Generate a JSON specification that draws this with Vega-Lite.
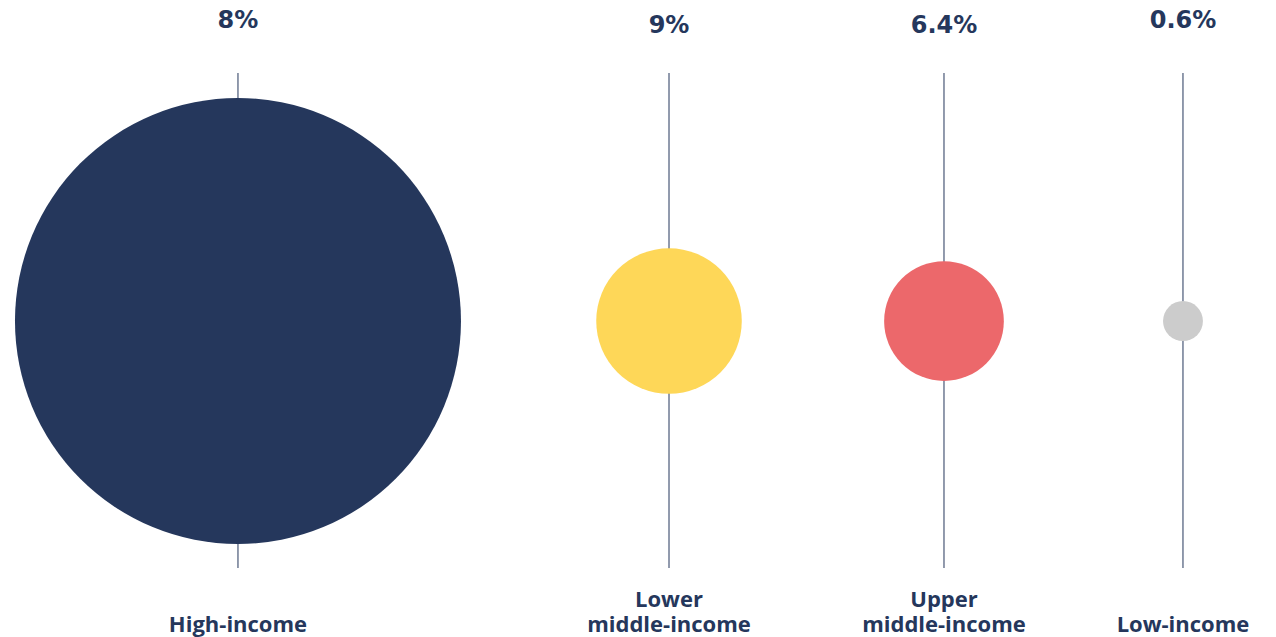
{
  "$schema": "https://vega.github.io/schema/vega-lite/v6.json",
  "width": 1276,
  "height": 637,
  "autosize": {"type": "none"},
  "padding": 0,
  "background": "#ffffff",
  "config": {"view": {"stroke": null}},
  "data": {
    "values": [
      {"group": "High-income", "label": "High-income", "pct": "8%", "pos": 18.65, "weight": 124.9, "stagger": "high"},
      {"group": "Lower middle-income", "label": "Lower\nmiddle-income", "pct": "9%", "pos": 52.43, "weight": 13.3, "stagger": "low"},
      {"group": "Upper middle-income", "label": "Upper\nmiddle-income", "pct": "6.4%", "pos": 73.98, "weight": 9.0, "stagger": "low"},
      {"group": "Low-income", "label": "Low-income", "pct": "0.6%", "pos": 92.71, "weight": 1.0, "stagger": "high"}
    ]
  },
  "encoding": {
    "x": {"field": "pos", "type": "quantitative", "scale": {"domain": [0, 100]}, "axis": null}
  },
  "layer": [
    {
      "mark": {"type": "rule", "color": "#25375c", "strokeWidth": 1},
      "encoding": {
        "y": {"datum": 10.83, "type": "quantitative", "scale": {"domain": [0, 100]}, "axis": null},
        "y2": {"datum": 88.54}
      }
    },
    {
      "mark": {"type": "circle", "opacity": 1, "stroke": null},
      "encoding": {
        "y": {"datum": 49.6, "type": "quantitative", "scale": {"domain": [0, 100]}, "axis": null},
        "size": {"field": "weight", "type": "quantitative", "scale": {"domain": [0, 125], "range": [0, 199075]}, "legend": null},
        "color": {
          "field": "group", "type": "nominal",
          "scale": {"domain": ["High-income", "Lower middle-income", "Upper middle-income", "Low-income"], "range": ["#25375c", "#fed758", "#ec686b", "#cccccc"]},
          "legend": null
        }
      }
    },
    {
      "transform": [{"filter": {"field": "stagger", "equal": "high"}}],
      "mark": {"type": "text", "font": "DejaVu Sans", "fontWeight": "bold", "fontSize": 24, "color": "#25375c", "baseline": "alphabetic", "align": "center"},
      "encoding": {
        "y": {"datum": 95.6, "type": "quantitative", "scale": {"domain": [0, 100]}, "axis": null},
        "text": {"field": "pct"}
      }
    },
    {
      "transform": [{"filter": {"field": "stagger", "equal": "low"}}],
      "mark": {"type": "text", "font": "DejaVu Sans", "fontWeight": "bold", "fontSize": 24, "color": "#25375c", "baseline": "alphabetic", "align": "center"},
      "encoding": {
        "y": {"datum": 94.82, "type": "quantitative", "scale": {"domain": [0, 100]}, "axis": null},
        "text": {"field": "pct"}
      }
    },
    {
      "transform": [{"filter": {"field": "group", "oneOf": ["High-income", "Low-income"]}}],
      "mark": {"type": "text", "font": "Open Sans", "fontWeight": "bold", "fontSize": 22, "color": "#25375c", "baseline": "alphabetic", "align": "center"},
      "encoding": {
        "y": {"datum": 0.83, "type": "quantitative", "scale": {"domain": [0, 100]}, "axis": null},
        "text": {"field": "label"}
      }
    },
    {
      "transform": [{"filter": {"field": "group", "oneOf": ["Lower middle-income", "Upper middle-income"]}}],
      "mark": {"type": "text", "font": "Open Sans", "fontWeight": "bold", "fontSize": 22, "lineHeight": 25, "lineBreak": "\n", "color": "#25375c", "baseline": "alphabetic", "align": "center"},
      "encoding": {
        "y": {"datum": 4.76, "type": "quantitative", "scale": {"domain": [0, 100]}, "axis": null},
        "text": {"field": "label"}
      }
    }
  ]
}
